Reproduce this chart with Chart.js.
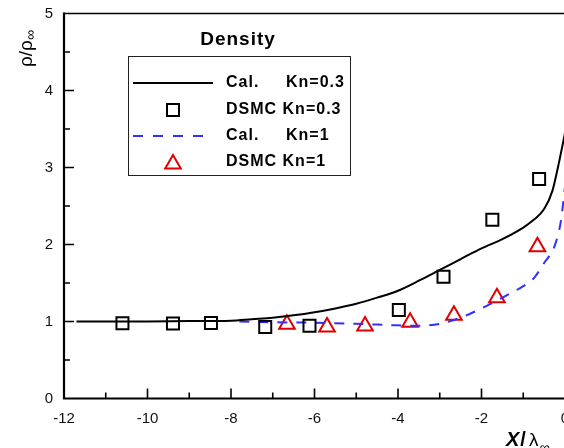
<!DOCTYPE html>
<html>
<head>
<meta charset="utf-8">
<script src="https://cdn.jsdelivr.net/npm/chart.js@4.4.1/dist/chart.umd.min.js"></script>
<style>
  html,body{margin:0;padding:0;background:#fff;overflow:hidden;}
  canvas{display:block;}
</style>
</head>
<body>
<canvas id="c" width="580" height="448" style="width:580px;height:448px"></canvas>
<script>
/* ===== Data ===== */
const calKn03X = [-11.7, -11, -10, -9, -8, -7.5, -7, -6.5, -6, -5.5, -5, -4.5, -4, -3.5, -3, -2.5, -2, -1.5, -1, -0.75, -0.5, -0.3, -0.15, 0];
const calKn03Y = [1.0, 1.0, 1.0, 1.005, 1.01, 1.03, 1.05, 1.08, 1.12, 1.17, 1.23, 1.31, 1.40, 1.53, 1.67, 1.81, 1.95, 2.07, 2.22, 2.32, 2.46, 2.70, 3.05, 3.45];

const dsmcKn03X = [-10.6, -9.39, -8.48, -7.18, -6.12, -3.98, -2.91, -1.74, -0.62];
const dsmcKn03Y = [0.977, 0.975, 0.98, 0.93, 0.945, 1.15, 1.58, 2.32, 2.85];

const calKn1X = [-7.8, -7, -6, -5, -4.5, -4, -3.5, -3, -2.5, -2, -1.5, -1, -0.75, -0.5, -0.25, -0.1, 0];
const calKn1Y = [1.0, 0.99, 0.985, 0.97, 0.96, 0.95, 0.945, 0.97, 1.05, 1.17, 1.31, 1.46, 1.56, 1.76, 1.98, 2.3, 2.75];

const dsmcKn1X = [-6.66, -5.70, -4.79, -3.71, -2.66, -1.63, -0.66];
const dsmcKn1Y = [0.965, 0.93, 0.94, 0.99, 1.08, 1.31, 1.97];

const legendLabels = [['Cal.', 'Kn=0.3'], ['DSMC Kn=0.3'], ['Cal.', 'Kn=1'], ['DSMC Kn=1']];

const FONT = '"Liberation Sans", Arial, Helvetica, sans-serif';
const BLUE = '#3030ff', RED = '#e00000';

function pts(xs, ys){ return xs.map((x,i)=>({x, y:ys[i]})); }

/* ===== Frame, ticks, titles, legend ===== */
const framePlugin = {
  id:'frame',
  afterDraw(chart){
    const ctx = chart.ctx, a = chart.chartArea;
    const xs = chart.scales.x, ys = chart.scales.y;
    ctx.save();
    ctx.strokeStyle = '#000';
    ctx.lineCap = 'butt';
    // top border
    ctx.lineWidth = 1.5;
    ctx.beginPath(); ctx.moveTo(a.left, a.top); ctx.lineTo(a.right + 2, a.top); ctx.stroke();
    // left + bottom axes
    ctx.lineWidth = 2.2;
    ctx.beginPath(); ctx.moveTo(a.left, a.top - 1); ctx.lineTo(a.left, a.bottom); ctx.lineTo(a.right + 2, a.bottom); ctx.stroke();
    // ticks (inward)
    ctx.lineWidth = 1.6;
    ctx.beginPath();
    for(let v = -11; v < 0; v += 1){
      const px = xs.getPixelForValue(v), len = (v % 2 === 0) ? 10 : 6;
      ctx.moveTo(px, a.bottom); ctx.lineTo(px, a.bottom - len);
    }
    for(let v = 0.5; v < 5; v += 0.5){
      const py = ys.getPixelForValue(v), len = (Math.abs(v - Math.round(v)) < 1e-6) ? 10 : 6;
      ctx.moveTo(a.left, py); ctx.lineTo(a.left + len, py);
    }
    ctx.stroke();

    // y title  rho/rho_inf (rotated)
    ctx.fillStyle = '#000';
    ctx.save();
    ctx.translate(32, 67);
    ctx.rotate(-Math.PI/2);
    ctx.textBaseline = 'alphabetic';
    ctx.textAlign = 'left';
    ctx.font = '19px ' + FONT;
    ctx.fillText('ρ/ρ', 0, 0);
    const w1 = ctx.measureText('ρ/ρ').width;
    ctx.font = '14px ' + FONT;
    ctx.fillText('∞', w1, 3);
    ctx.restore();

    // x title  X/lambda_inf
    ctx.textBaseline = 'alphabetic';
    ctx.textAlign = 'left';
    let x0 = 506;
    ctx.font = 'italic bold 20px ' + FONT;
    ctx.fillText('X', x0, 446); x0 += ctx.measureText('X').width + 1;
    ctx.font = 'bold 20px ' + FONT;
    ctx.fillText('/', x0, 446); x0 += ctx.measureText('/').width + 3;
    ctx.font = '19px ' + FONT;
    ctx.fillText('λ', x0, 446); x0 += ctx.measureText('λ').width + 1;
    ctx.font = '14px ' + FONT;
    ctx.fillText('∞', x0, 452);

    // legend
    ctx.fillStyle = '#fff';
    ctx.fillRect(128, 56, 223, 120);
    ctx.strokeStyle = '#222';
    ctx.lineWidth = 1;
    ctx.strokeRect(128.5, 56.5, 222, 119);

    ctx.fillStyle = '#000';
    ctx.textAlign = 'center';
    ctx.textBaseline = 'middle';
    ctx.font = 'bold 19px ' + FONT;
    if('letterSpacing' in ctx) ctx.letterSpacing = '1px';
    ctx.fillText('Density', 238, 40);

    const rows = [83, 110, 136, 162];
    // samples
    ctx.lineWidth = 2;
    ctx.strokeStyle = '#000';
    ctx.beginPath(); ctx.moveTo(133, rows[0]); ctx.lineTo(213, rows[0]); ctx.stroke();
    ctx.strokeStyle = BLUE;
    ctx.setLineDash([10, 10]);
    ctx.beginPath(); ctx.moveTo(133, rows[2]); ctx.lineTo(203, rows[2]); ctx.stroke();
    ctx.setLineDash([]);
    const dp = Chart.helpers.drawPoint;
    ctx.strokeStyle = '#000'; ctx.fillStyle = 'rgba(0,0,0,0)';
    dp(ctx, {pointStyle:'rect', radius:8.5, rotation:0, borderWidth:2}, 173, rows[1]);
    ctx.strokeStyle = RED;
    dp(ctx, {pointStyle:'triangle', radius:9, rotation:0, borderWidth:2}, 173, rows[3] + 2);

    ctx.fillStyle = '#000';
    ctx.textAlign = 'left';
    ctx.font = 'bold 16px ' + FONT;
    legendLabels.forEach((lab, i)=>{
      ctx.fillText(lab[0], 226, rows[i]);
      if(lab[1]) ctx.fillText(lab[1], 286, rows[i]);
    });
    ctx.restore();
  }
};

/* ===== Chart ===== */
const chart = new Chart(document.getElementById('c'), {
  type:'line',
  data:{datasets:[
    { label:'Cal. Kn=0.3', data:pts(calKn03X, calKn03Y), borderColor:'#000', borderWidth:2,
      pointRadius:0, cubicInterpolationMode:'monotone', fill:false },
    { label:'DSMC Kn=0.3', data:pts(dsmcKn03X, dsmcKn03Y), showLine:false, pointStyle:'rect',
      pointRadius:8.5, pointBorderWidth:2, pointBorderColor:'#000', pointBackgroundColor:'rgba(0,0,0,0)' },
    { label:'Cal. Kn=1', data:pts(calKn1X, calKn1Y), borderColor:BLUE, borderWidth:2, borderDash:[10,9],
      pointRadius:0, cubicInterpolationMode:'monotone', fill:false },
    { label:'DSMC Kn=1', data:pts(dsmcKn1X, dsmcKn1Y), showLine:false, pointStyle:'triangle',
      pointRadius:9, pointBorderWidth:2, pointBorderColor:RED, pointBackgroundColor:'rgba(0,0,0,0)' }
  ]},
  options:{
    responsive:false,
    animation:false,
    layout:{padding:{top:13.5, right:15, left:0, bottom:0}},
    plugins:{legend:{display:false}, tooltip:{enabled:false}},
    scales:{
      x:{ type:'linear', min:-12, max:0,
          grid:{display:false, drawTicks:false}, border:{display:false},
          ticks:{stepSize:2, padding:11, color:'#111', font:{family:FONT, size:15}},
          afterFit:(s)=>{ s.height = 49.5; s.paddingLeft = 0; s.paddingRight = 0; } },
      y:{ type:'linear', min:0, max:5,
          grid:{display:false, drawTicks:false}, border:{display:false},
          ticks:{stepSize:1, padding:11, color:'#111', font:{family:FONT, size:15}},
          afterFit:(s)=>{ s.width = 64; s.paddingTop = 0; s.paddingBottom = 0; } }
    }
  },
  plugins:[framePlugin]
});
</script>
</body>
</html>
